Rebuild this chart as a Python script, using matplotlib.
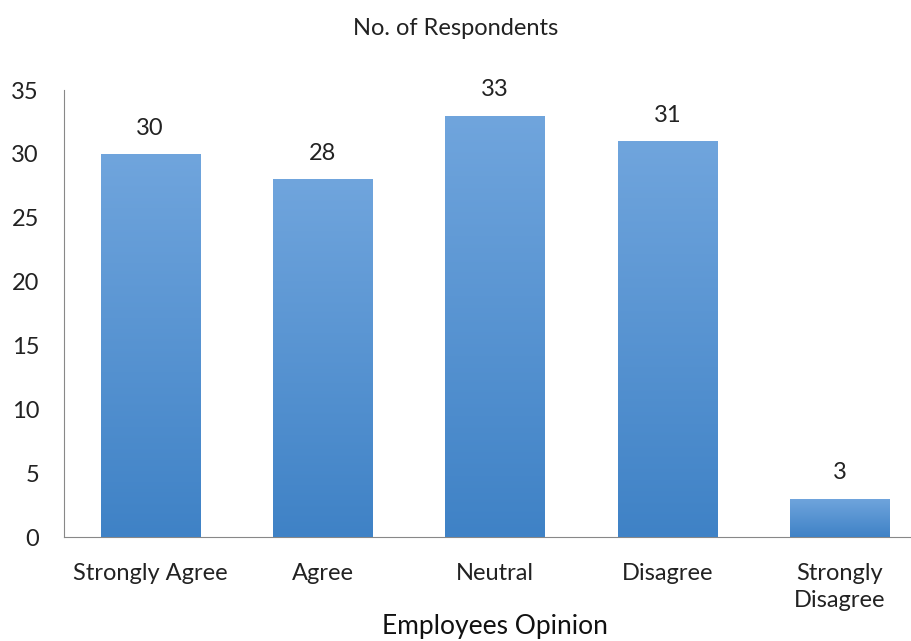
import matplotlib.pyplot as plt
import numpy as np
from matplotlib.colors import LinearSegmentedColormap

categories = ["Strongly Agree", "Agree", "Neutral", "Disagree", "Strongly\nDisagree"]
respondents = [30, 28, 33, 31, 3]
y_ticks = [0, 5, 10, 15, 20, 25, 30, 35]

plt.rcParams['font.family'] = ['Lato', 'DejaVu Sans']

fig = plt.figure(figsize=(9.12, 6.41), dpi=100)
ax = fig.add_axes([0.0702, 0.1622, 0.945, 0.6973])

x = np.arange(len(categories))
bars = ax.bar(x, respondents, width=0.575, color='#4f8fd0', zorder=2)

# vertical gradient, lighter at the top
grad = np.linspace(0, 1, 256).reshape(-1, 1)
cmap = LinearSegmentedColormap.from_list('bar', ['#3f82c6', '#70a5dd'])
for b in bars:
    bx, by = b.get_x(), b.get_y()
    w, h = b.get_width(), b.get_height()
    im = ax.imshow(grad, extent=[bx, bx + w, by, by + h], origin='lower',
                   cmap=cmap, aspect='auto', zorder=3)
    im.set_clip_path(b)
    ax.text(bx + w / 2, by + h + 1.2, str(int(h)), ha='center', va='bottom',
            fontsize=17, color='#222222')

ax.set_xlim(-0.5, len(categories) - 0.5)
ax.set_ylim(0, 35)
ax.set_yticks(y_ticks)
ax.set_xticks(x)
ax.set_xticklabels(categories, fontsize=17, color='#222222', linespacing=1.35)
ax.tick_params(axis='y', labelsize=17, colors='#222222', length=0, pad=18)
ax.tick_params(axis='x', length=0, pad=19)

for s in ['top', 'right']:
    ax.spines[s].set_visible(False)
ax.spines['left'].set_color('#888888')
ax.spines['bottom'].set_color('#888888')

fig.text(0.5, 0.955, "No. of Respondents", ha='center', va='center',
         fontsize=17, color='#222222')
ax.set_xlabel("Employees Opinion", fontsize=19, color='#111111', labelpad=2)

fig.savefig("out.png", dpi=100)
